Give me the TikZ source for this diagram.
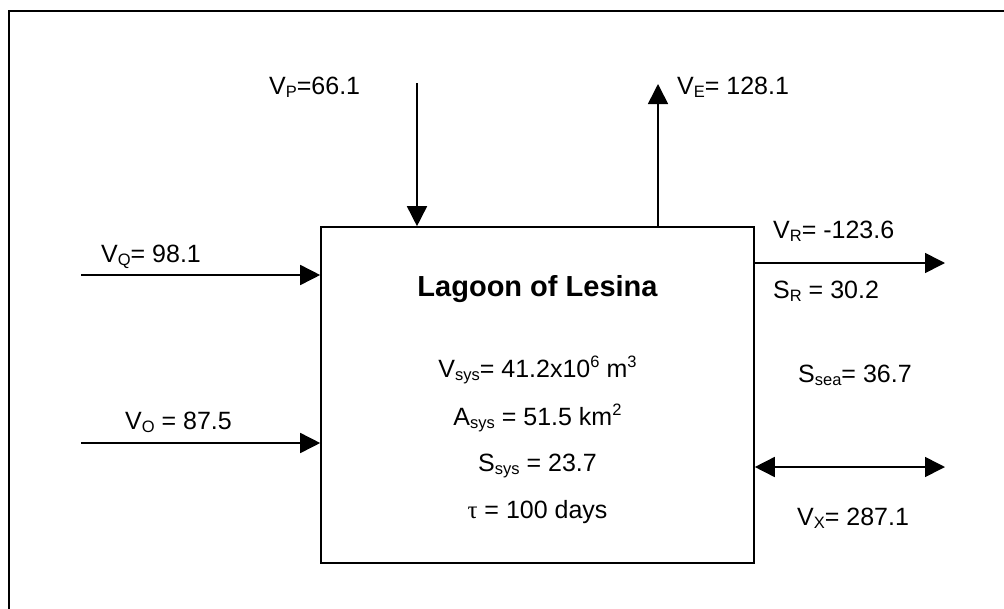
\documentclass[tikz,border=0pt]{standalone}
\usepackage{fontspec}
\setmainfont{Liberation Sans}
\newfontfamily\greekfont{Liberation Serif}
\usetikzlibrary{arrows.meta}
\newcommand\sbs[1]{\raisebox{-3pt}{\fontsize{16.5}{18}\selectfont #1}}
\newcommand\sps[1]{\raisebox{10pt}{\fontsize{16.5}{18}\selectfont #1}}
\tikzset{
  lbl/.style={anchor=base west, inner sep=0pt, font=\fontsize{25}{30}\selectfont},
  ctr/.style={anchor=base, inner sep=0pt, font=\fontsize{25}{30}\selectfont},
  ttl/.style={anchor=base, inner sep=0pt, font=\fontsize{29}{34}\selectfont\bfseries},
  ln/.style={line width=1.6pt, black},
  arr/.style={ln, -{Triangle[length=20pt,width=20pt]}},
  darr/.style={ln, {Triangle[length=20pt,width=20pt]}-{Triangle[length=20pt,width=20pt]}},
  boxst/.style={draw, ln, minimum width=433pt, minimum height=336pt, inner sep=0pt}
}
\begin{document}
\begin{tikzpicture}[x=1pt,y=-1pt]
\useasboundingbox (0,0) rectangle (1004,608);
% frame
\coordinate (fBL) at (9,610);
\coordinate (fTL) at (9,11);
\coordinate (fTR) at (1006,11);
\draw[ln] (fBL) -- (fTL) -- (fTR);
% main box
\node[boxst] (box) at (537.5,395) {};
% free ends
\coordinate (pS) at (417,83);
\coordinate (eE) at (658,84);
\coordinate (qS) at (81,275);
\coordinate (oS) at (81,443);
\coordinate (rE) at (945,263);
\coordinate (xE) at (945,467);
% connectors
\draw[arr] (pS) -- (pS |- box.north);
\draw[arr] (eE |- box.north) -- (eE);
\draw[arr] (qS) -- (qS -| box.west);
\draw[arr] (oS) -- (oS -| box.west);
\draw[arr] (rE -| box.east) -- (rE);
\draw[darr] (xE -| box.east) -- (xE);
% labels
\node[lbl] (tP) at (269,94) {V\sbs{P}=66.1};
\node[lbl] (tE) at (677,94) {V\sbs{E}= 128.1};
\node[lbl] (tQ) at (101,262) {V\sbs{Q}= 98.1};
\node[lbl] (tO) at (125,429) {V\sbs{O} = 87.5};
\node[lbl] (tR) at (773,238) {V\sbs{R}= -123.6};
\node[lbl] (tSR) at (773,298) {S\sbs{R} = 30.2};
\node[lbl] (tSea) at (798,382) {S\sbs{sea}= 36.7};
\node[lbl] (tX) at (797,525) {V\sbs{X}= 287.1};
% box texts
\node[ttl] (tTitle) at (537.5,296) {Lagoon of Lesina};
\node[ctr] (tV) at (537.5,377) {V\sbs{sys}= 41.2x10\sps{6} m\sps{3}};
\node[ctr] (tA) at (537.5,425) {A\sbs{sys} = 51.5 km\sps{2}};
\node[ctr] (tS) at (537.5,471) {S\sbs{sys} = 23.7};
\node[ctr] (tTau) at (537.5,518) {{\greekfont τ} = 100 days};
\end{tikzpicture}
\end{document}
